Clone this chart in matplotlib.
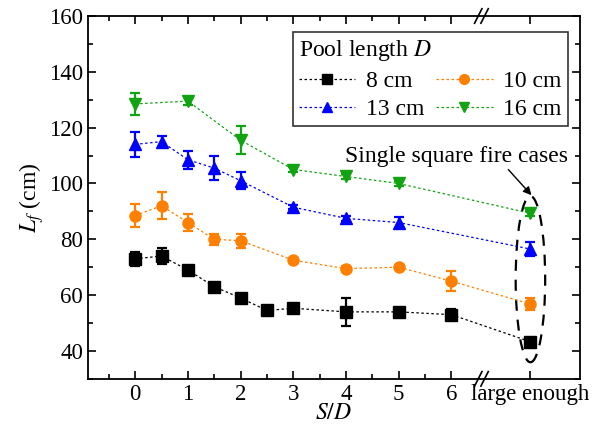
import matplotlib
matplotlib.use("Agg")
import matplotlib.pyplot as plt
from matplotlib.patches import Ellipse
from matplotlib.lines import Line2D
from matplotlib.ticker import MultipleLocator, FixedLocator
import matplotlib.transforms as mtransforms

plt.rcParams["font.family"] = ["Liberation Serif", "DejaVu Serif"]
plt.rcParams["mathtext.fontset"] = "stix"

# "large enough" case is placed at x = 7.5 behind the axis break
LARGE = 7.5

x8 = [0, 0.5, 1, 1.5, 2, 2.5, 3, 4, 5, 6, LARGE]
y8 = [73, 74, 69, 63, 59, 54.5, 55.3, 54, 54, 53, 43.3]
e8 = [2.5, 3, 0.8, 0.8, 0.8, 0.8, 0.8, 5, 0.8, 2, 1.5]

x10 = [0, 0.5, 1, 1.5, 2, 3, 4, 5, 6, LARGE]
y10 = [88.5, 92, 86, 80, 79.5, 72.5, 69.5, 70, 65, 56.8]
e10 = [4, 4.8, 3, 2, 2.5, 0.8, 0.8, 0.8, 3.5, 2]

x13 = [0, 0.5, 1, 1.5, 2, 3, 4, 5, LARGE]
y13 = [114, 115, 108.5, 105.5, 101, 91.5, 87.5, 86, 76.5]
e13 = [4.5, 2, 3.3, 4.3, 3, 0.8, 0.8, 2, 2.5]

x16 = [0, 1, 2, 3, 4, 5, LARGE]
y16 = [128.5, 129.5, 115.5, 105, 102.5, 100, 89.3]
e16 = [4, 1.5, 5, 0.8, 0.8, 0.8, 1]

labels = ["8 cm", "10 cm", "13 cm", "16 cm"]
colors = ["black", "#FF8000", "#0000FF", "#12A312"]
markers = ["s", "o", "^", "v"]

xticks = [0, 1, 2, 3, 4, 5, 6, LARGE]
xticklabels = ["0", "1", "2", "3", "4", "5", "6", "large enough"]

fig = plt.figure(figsize=(6.01, 4.32), dpi=100)
ax = fig.add_axes([0.146, 0.123, 0.819, 0.840])

dash = (0, (2, 2))
series = [(x8, y8, e8), (x10, y10, e10), (x13, y13, e13), (x16, y16, e16)]
handles = []
for (xs, ys, es), lab, c, m in zip(series, labels, colors, markers):
    ax.errorbar(xs, ys, yerr=es, color=c, marker=m, markersize=8,
                linestyle=dash, linewidth=0.9, elinewidth=1.6,
                capsize=3.5, capthick=1.6)
    handles.append(Line2D([], [], color=c, marker=m, markersize=7,
                          linestyle=dash, linewidth=0.9, label=lab))

ax.set_xlim(-0.9, 8.44)
ax.set_ylim(30, 160)
ax.xaxis.set_major_locator(FixedLocator(xticks))
ax.set_xticklabels(xticklabels)
ax.xaxis.set_minor_locator(FixedLocator([-0.5, 0.5, 1.5, 2.5, 3.5, 4.5, 5.5]))
ax.set_yticks([40, 60, 80, 100, 120, 140, 160])
ax.yaxis.set_minor_locator(MultipleLocator(10))
ax.tick_params(which="both", direction="in", top=True, right=True,
               labelsize=16.5, width=1.2)
ax.tick_params(which="major", length=6)
ax.tick_params(which="minor", length=3.5)
for s in ax.spines.values():
    s.set_linewidth(1.3)

ax.set_xlabel("$S/D$", fontsize=17, labelpad=-1)
ax.set_ylabel("$L_f$ (cm)", fontsize=17, labelpad=2)

# row-wise legend order: 8, 10 / 13, 16
order = [0, 2, 1, 3]
leg = ax.legend([handles[i] for i in order], [labels[i] for i in order],
                ncol=2, loc="upper right", bbox_to_anchor=(0.975, 0.955),
                fontsize=17, title="Pool length $D$", title_fontsize=17,
                frameon=True, fancybox=False, edgecolor="black",
                handlelength=2.4, columnspacing=0.5, handletextpad=0.45,
                borderpad=0.25, labelspacing=0.3, alignment="left",
                borderaxespad=0)
leg.get_frame().set_linewidth(1.2)
for t in leg.get_texts():
    t.set_ha("right")

# axis break marks
trans = mtransforms.blended_transform_factory(ax.transData, ax.transAxes)
for yb in (0, 1):
    for dx in (-0.06, 0.06):
        ax.plot([6.57 + dx - 0.07, 6.57 + dx + 0.07], [yb - 0.02, yb + 0.02],
                color="black", linewidth=1.2, transform=trans, clip_on=False)

ax.add_patch(Ellipse((LARGE, 65.7), 0.56, 59.5, fill=False,
                     linestyle=(0, (5, 4)), linewidth=1.6, edgecolor="black"))
ax.text(8.22, 109.8, "Single square fire cases", fontsize=17,
        ha="right", va="center")
ax.annotate("", xy=(7.52, 95.8), xytext=(7.08, 105),
            arrowprops=dict(arrowstyle="-|>", color="black", lw=1,
                            shrinkA=0, shrinkB=0, mutation_scale=12))

fig.savefig("out.png", dpi=100)
